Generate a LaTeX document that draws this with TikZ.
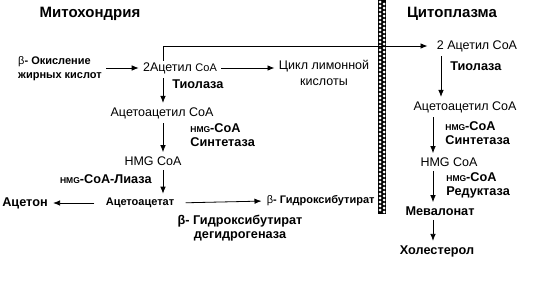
\documentclass[tikz,border=0pt]{standalone}
\usepackage{fontspec}
\setmainfont{Liberation Sans}
\usepackage{tikz}
\usetikzlibrary{arrows.meta, positioning}

\newcommand{\hmg}{{\fontsize{8.5}{8.5}\selectfont HMG}}

\begin{document}
\begin{tikzpicture}[x=1pt, y=-1pt, >={Latex[length=7pt,width=5.5pt]}, line width=0.8pt,
    title/.style={font=\bfseries\fontsize{15}{15}\selectfont, inner sep=1pt},
    compound/.style={font=\fontsize{12.5}{16}\selectfont, align=center, inner sep=1pt},
    enzyme/.style={font=\bfseries\fontsize{12.7}{14}\selectfont, align=left, inner sep=1pt},
    minor/.style={font=\bfseries\fontsize{11}{14}\selectfont, align=left, inner sep=1pt},
    flow/.style={->, shorten <=3pt, shorten >=3pt}]

    \useasboundingbox (0,0) rectangle (535,300);

    % Membrane
    \fill (378,0) rectangle (386,214);
    \foreach \y in {2,6,...,210} {
        \fill[white] (380,\y) circle (1.5pt);
        \fill[white] (384,\y+2) circle (1.5pt);
    }

    % Columns
    \coordinate (colL) at (163,0);
    \coordinate (colA) at (441,0);
    \coordinate (colB) at (433,0);

    % Titles
    \node (mito) [title] at (90,14) {Митохондрия};
    \node (cyto) [title] at (452,14) {Цитоплазма};

    % Mitochondria
    \node (betaox) [minor] at (60,69) {{\mdseries β}- Окисление\\жирных кислот};
    \node (acoaL) [compound] at (180,68) {2Ацетил {\fontsize{11}{11}\selectfont CoA}};
    \node (krebs) [compound] at (324,73) {Цикл лимонной\\кислоты};
    \node (thioL) [enzyme, anchor=west] at (171,84) {Тиолаза};
    \node (aacoaL) [compound] at (162,113) {Ацетоацетил CoA};
    \node (synthL) [enzyme, anchor=west] at (189,135) {\hmg-CoA\\Синтетаза};
    \node (hmgL) [compound] at (153,161) {HMG CoA};
    \node (lyase) [enzyme, anchor=east] at (153,179) {\hmg-CoA-Лиаза};
    \node (aacet) [minor] at (140,203) {Ацетоацетат};
    \node (aceton) [enzyme] at (25,203) {Ацетон};
    \node (bhb) [minor, anchor=east] at (376,201) {{\mdseries β}- Гидроксибутират};
    \node (dehyd) [enzyme, align=center] at (240,228) {β- Гидроксибутират\\дегидрогеназа};

    % Cytoplasm
    \node (acoaR) [compound] at (477,46) {2 Ацетил CoA};
    \node (thioR) [enzyme, anchor=west] at (449,66) {Тиолаза};
    \node (aacoaR) [compound] at (465,107) {Ацетоацетил CoA};
    \node (synthR) [enzyme, anchor=west] at (444,133) {\hmg-CoA\\Синтетаза};
    \node (hmgR) [compound] at (449,162) {HMG CoA};
    \node (reduct) [enzyme, anchor=west] at (445,185) {\hmg-CoA\\Редуктаза};
    \node (meval) [enzyme] at (440,211) {Мевалонат};
    \node (chol) [enzyme] at (437,251) {Холестерол};

    % Links
    \draw[flow] (betaox.east |- acoaL) -- (acoaL.west);
    \draw[flow] (acoaL.east) -- (krebs.west |- acoaL.east);
    \draw[->, shorten >=8pt] (acoaL.north -| colL) |- (acoaR.west);
    \draw[flow] (acoaL.south -| colL) -- (aacoaL.north -| colL);
    \draw[flow] (aacoaL.south -| colL) -- (hmgL.north -| colL);
    \draw[flow] (hmgL.south -| colL) -- (aacet.north -| colL);
    \draw[->, shorten <=10pt, shorten >=4pt] (aacet.west) -- (aceton.east);
    \draw[->, shorten <=10pt, shorten >=4pt] (aacet.east) -- (bhb.west);
    \draw[flow] (acoaR.south -| colA) -- (aacoaR.north -| colA);
    \draw[flow] (aacoaR.south -| colB) -- (hmgR.north -| colB);
    \draw[flow] (hmgR.south -| colB) -- (meval.north -| colB);
    \draw[flow] (meval.south -| colB) -- (chol.north -| colB);
\end{tikzpicture}
\end{document}
